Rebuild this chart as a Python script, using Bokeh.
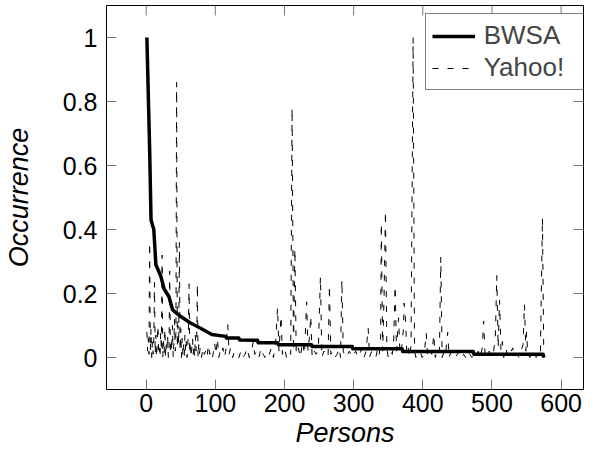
import math
from bokeh.plotting import figure
from bokeh.models import FixedTicker, Range1d, Legend, LegendItem
from bokeh.embed import file_html
from bokeh.resources import INLINE

# ---- data ----
x_ticks = [0, 100, 200, 300, 400, 500, 600]
x_tick_labels = ["0", "100", "200", "300", "400", "500", "600"]
y_ticks = [0, 0.2, 0.4, 0.6, 0.8, 1.0]
y_tick_labels = ["0", "0.2", "0.4", "0.6", "0.8", "1"]

bwsa_x = [1, 5, 7, 11, 14, 21, 26, 33, 38, 43, 50, 64, 74, 95, 115, 116, 134, 135,
          161, 162, 190, 191, 239, 240, 298, 299, 370, 371, 473, 474, 574, 575]
bwsa_y = [1.0, 0.65, 0.43, 0.40, 0.29, 0.255, 0.214, 0.19, 0.15, 0.14, 0.128, 0.108,
          0.097, 0.072, 0.066, 0.061, 0.061, 0.055, 0.054, 0.046, 0.046, 0.04, 0.04,
          0.034, 0.034, 0.027, 0.027, 0.019, 0.019, 0.01, 0.01, 0.0]

yahoo_x = [1, 2, 3, 4, 5, 6, 7, 8, 9, 10, 11, 12, 13, 14, 15, 16, 17, 18, 19, 20,
           21, 22, 23, 24, 25, 26, 27, 28, 29, 30, 31, 32, 33, 34, 35, 36, 37, 38, 39, 40,
           41, 42, 43, 44, 45, 46, 47, 48, 49, 50, 51, 52, 53, 54, 55, 56, 57, 58, 59, 60,
           61, 62, 63, 64, 65, 66, 67, 68, 69, 70, 71, 72, 73, 74, 75, 76, 77, 78, 80,
           82, 84, 86, 88, 90, 92, 94, 96, 99, 101, 103, 105, 107, 109, 111, 113, 115, 118,
           120, 122, 125, 128, 131, 134, 137, 140, 143, 146, 149, 152, 155, 157, 160, 163,
           166, 169, 172, 175, 178, 181, 184, 187, 190, 192, 195, 197, 200, 203, 206, 209,
           211, 213, 215, 217, 220, 223, 226, 229, 232, 234, 236, 238, 240, 243, 246, 249,
           252, 254, 257, 260, 263, 265, 267, 270, 273, 276, 279, 281, 283, 285, 288, 291,
           294, 297, 300, 303, 306, 309, 312, 315, 318, 321, 323, 326, 329, 332, 335, 337,
           339, 340, 342, 344, 346, 348, 350, 353, 356, 358, 360, 362, 364, 365, 367, 370,
           372, 373, 375, 377, 379, 381, 383, 386, 388, 390, 393, 396, 399, 402, 405, 407,
           410, 413, 416, 418, 421, 424, 426, 428, 431, 433, 436, 438, 441, 444, 447, 450,
           453, 456, 459, 462, 465, 468, 471, 474, 477, 480, 483, 486, 488, 490, 493, 496,
           499, 502, 505, 507, 509, 511, 513, 515, 517, 520, 523, 526, 530, 533, 536, 539,
           542, 545, 547, 549, 550, 552, 555, 558, 561, 564, 567, 570, 573, 575]
yahoo_y = [0.08, 0.02, 0.06, 0.01, 0.36, 0.02, 0.09, 0.0, 0.05, 0.01, 0.06, 0.235, 0.01, 0.07, 0.0, 0.04, 0.1, 0.01, 0.03, 0.0,
           0.08, 0.02, 0.32, 0.0, 0.05, 0.01, 0.09, 0.0, 0.04, 0.02, 0.07, 0.0, 0.03, 0.27, 0.01, 0.06, 0.02, 0.1, 0.0, 0.05,
           0.12, 0.02, 0.08, 0.86, 0.03, 0.1, 0.04, 0.36, 0.02, 0.09, 0.0, 0.06, 0.01, 0.04, 0.0, 0.07, 0.02, 0.05, 0.0, 0.03,
           0.08, 0.23, 0.01, 0.05, 0.0, 0.03, 0.06, 0.01, 0.04, 0.0, 0.07, 0.02, 0.05, 0.23, 0.0, 0.04, 0.01, 0.03, 0.0,
           0.03, 0.01, 0.02, 0.0, 0.04, 0.01, 0.02, 0.0, 0.045, 0.01, 0.06, 0.0, 0.02, 0.01, 0.03, 0.0, 0.02, 0.103,
           0.01, 0.03, 0.0, 0.02, 0.01, 0.0, 0.02, 0.0, 0.01, 0.03, 0.0, 0.02, 0.05, 0.01, 0.02, 0.0,
           0.03, 0.01, 0.0, 0.02, 0.01, 0.03, 0.0, 0.04, 0.156, 0.02, 0.13, 0.01, 0.03, 0.0, 0.02, 0.01,
           0.78, 0.02, 0.34, 0.01, 0.03, 0.0, 0.05, 0.01, 0.174, 0.02, 0.06, 0.13, 0.0, 0.02, 0.01, 0.03,
           0.253, 0.0, 0.02, 0.01, 0.0, 0.226, 0.01, 0.02, 0.0, 0.01, 0.03, 0.0, 0.243, 0.02, 0.0, 0.01,
           0.02, 0.0, 0.01, 0.02, 0.0, 0.01, 0.03, 0.0, 0.02, 0.093, 0.0, 0.02, 0.01, 0.0, 0.03, 0.01,
           0.05, 0.42, 0.02, 0.19, 0.458, 0.03, 0.0, 0.02, 0.01, 0.06, 0.224, 0.02, 0.09, 0.124, 0.01, 0.04,
           0.09, 0.17, 0.12, 0.01, 0.03, 0.0, 0.04, 1.0, 0.02, 0.0, 0.01, 0.02, 0.0, 0.01, 0.077, 0.0,
           0.02, 0.01, 0.072, 0.0, 0.02, 0.01, 0.314, 0.0, 0.02, 0.01, 0.079, 0.0, 0.02, 0.01, 0.0, 0.01,
           0.02, 0.0, 0.01, 0.0, 0.02, 0.01, 0.0, 0.01, 0.0, 0.02, 0.0, 0.03, 0.114, 0.01, 0.0, 0.02,
           0.0, 0.01, 0.07, 0.256, 0.03, 0.18, 0.02, 0.05, 0.0, 0.03, 0.0, 0.01, 0.03, 0.0, 0.01, 0.0,
           0.02, 0.04, 0.166, 0.02, 0.08, 0.01, 0.0, 0.02, 0.01, 0.0, 0.01, 0.0, 0.437, 0.0]

FONT = "Liberation Sans"
TICK_COLOR = "#777777"
X_MIN, X_MAX = -57.4, 632.4
Y_MIN, Y_MAX = -0.1, 1.1

p = figure(width=585, height=450,
           x_range=Range1d(X_MIN, X_MAX), y_range=Range1d(Y_MIN, Y_MAX),
           output_backend="svg", toolbar_location=None,
           min_border_left=100, min_border_right=2, min_border_top=5, min_border_bottom=0)
p.background_fill_color = "white"
p.border_fill_color = "white"
p.outline_line_color = "black"
p.outline_line_width = 1
p.grid.visible = False

xa = p.below[0]
ya = p.left[0]
xa.ticker = FixedTicker(ticks=x_ticks)
ya.ticker = FixedTicker(ticks=y_ticks)
xa.major_label_overrides = dict(zip(x_ticks, x_tick_labels))
ya.major_label_overrides = dict(zip(y_ticks, y_tick_labels))
for ax in (xa, ya):
    ax.axis_line_color = None
    ax.minor_tick_line_color = None
    ax.major_tick_in = 10
    ax.major_tick_out = 0
    ax.major_tick_line_color = TICK_COLOR
    ax.major_label_text_font = FONT
    ax.major_label_text_font_size = "25px"
    ax.major_label_text_color = "black"
    ax.axis_label_text_font = FONT
    ax.axis_label_text_font_style = "italic"
    ax.axis_label_text_font_size = "27px"
    ax.axis_label_text_color = "black"
xa.axis_label = "Persons"
ya.axis_label = "Occurrence"
xa.major_label_standoff = 4
xa.axis_label_standoff = 3
ya.major_label_standoff = 9
ya.axis_label_standoff = 26

# inward ticks on the top and right frame edges (mirroring the axis ticks)
p.ray(x=x_ticks, y=[Y_MAX] * len(x_ticks), length=10, length_units="screen",
      angle=-math.pi / 2, line_color=TICK_COLOR, line_width=1)
p.ray(x=[X_MAX] * len(y_ticks), y=y_ticks, length=10, length_units="screen",
      angle=math.pi, line_color=TICK_COLOR, line_width=1)

r_yahoo = p.line(yahoo_x, yahoo_y, line_color="black", line_width=1, line_dash="6 9")
r_bwsa = p.line(bwsa_x, bwsa_y, line_color="black", line_width=3.5, line_join="round")

legend = Legend(items=[LegendItem(label="BWSA", renderers=[r_bwsa]),
                       LegendItem(label="Yahoo!", renderers=[r_yahoo])],
                location=(318.7, 298.7), padding=6, spacing=1,
                glyph_width=43, glyph_height=30, label_height=30, label_width=93,
                label_standoff=9,
                label_text_font=FONT, label_text_font_size="26px",
                border_line_color="black", border_line_width=1,
                background_fill_alpha=1.0)
p.add_layout(legend)

open("out.html", "w").write(file_html(p, INLINE))
